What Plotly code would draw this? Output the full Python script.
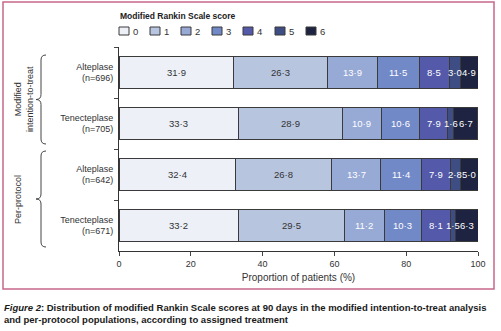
import plotly.graph_objects as go

# ---- data ----
groups = ["Alteplase<br>(n=696)", "Tenecteplase<br>(n=705)", "Alteplase<br>(n=642)", "Tenecteplase<br>(n=671)"]
scores = ["0", "1", "2", "3", "4", "5", "6"]
values = {
    "0": [31.9, 33.3, 32.4, 33.2],
    "1": [26.3, 28.9, 26.8, 29.5],
    "2": [13.9, 10.9, 13.7, 11.2],
    "3": [11.5, 10.6, 11.4, 10.3],
    "4": [8.5, 7.9, 7.9, 8.1],
    "5": [3.0, 1.6, 2.8, 1.5],
    "6": [4.9, 6.7, 5.0, 6.3],
}
colors = ["#edf0f7", "#b8c5df", "#97a9d5", "#7289c7", "#5459a9", "#3e4d83", "#1d2341"]
text_colors = ["#333333", "#333333", "#ffffff", "#ffffff", "#ffffff", "#ffffff", "#ffffff"]
x_ticks = [0, 20, 40, 60, 80, 100]

FONT = "Liberation Sans, Arial"
W, H = 501, 331
L, R, T, B = 119, 478, 47, 251  # plot area in pixels


def px(x):
    return (x - L) / (R - L)


def py(y):
    return (B - y) / (B - T)


fig = go.Figure()
shapes = []
annotations = []

cum = [0.0] * len(groups)
for s, c, tc in zip(scores, colors, text_colors):
    vals = values[s]
    fig.add_trace(go.Bar(
        y=groups, x=vals, orientation="h", name=s,
        marker=dict(color=c, line=dict(color="#3a3a3a", width=1)),
        textposition="none", showlegend=False,
    ))
    for i, (g, v) in enumerate(zip(groups, vals)):
        annotations.append(dict(
            xref="x", yref="y", x=cum[i] + v / 2, y=g,
            text=f"{v:.1f}".replace(".", "·"), showarrow=False,
            xanchor="center", yanchor="middle",
            font=dict(size=9.5, color=tc, family=FONT)))
        cum[i] += v

# manual legend
leg_x = [119, 150, 181, 212, 243, 275, 306]
for s, c, x0 in zip(scores, colors, leg_x):
    shapes.append(dict(type="rect", xref="paper", yref="paper",
                       x0=px(x0), x1=px(x0 + 10), y0=py(35), y1=py(27),
                       fillcolor=c, line=dict(color="#3a3a3a", width=1)))
    annotations.append(dict(xref="paper", yref="paper", x=px(x0 + 12), y=py(31),
                            text=s, showarrow=False, xanchor="left", yanchor="middle",
                            font=dict(size=9.5, color="#333", family=FONT)))
annotations.append(dict(xref="paper", yref="paper", x=px(118), y=py(16),
                        text="<b>Modified Rankin Scale score</b>", showarrow=False,
                        xanchor="left", yanchor="middle",
                        font=dict(size=8.5, color="#222", family=FONT)))

# braces
def brace(top, bot, xl=36, xm=41, xr=46):
    mid = (top + bot) / 2
    pts = (f"M{px(xr)},{py(top)} Q{px(xm)},{py(top)} {px(xm)},{py(top+5)} "
           f"L{px(xm)},{py(mid-5)} Q{px(xm)},{py(mid)} {px(xl)},{py(mid)} "
           f"Q{px(xm)},{py(mid)} {px(xm)},{py(mid+5)} "
           f"L{px(xm)},{py(bot-5)} Q{px(xm)},{py(bot)} {px(xr)},{py(bot)}")
    return dict(type="path", xref="paper", yref="paper", path=pts,
                line=dict(color="#444", width=1))

shapes.append(brace(55, 144))
shapes.append(brace(151, 247))

annotations.append(dict(xref="paper", yref="paper", x=px(24), y=py(99),
                        text="Modified<br>intention-to-treat", textangle=-90,
                        showarrow=False, xanchor="center", yanchor="middle",
                        font=dict(size=9, color="#333", family=FONT)))
annotations.append(dict(xref="paper", yref="paper", x=px(18), y=py(199),
                        text="Per-protocol", textangle=-90,
                        showarrow=False, xanchor="center", yanchor="middle",
                        font=dict(size=9, color="#333", family=FONT)))

# frame
shapes.append(dict(type="rect", xref="paper", yref="paper",
                   x0=px(3), x1=px(494), y0=py(289), y1=py(2),
                   line=dict(color="#c8688a", width=1.5), fillcolor="rgba(0,0,0,0)", layer="below"))

# caption
annotations.append(dict(xref="paper", yref="paper", x=px(2), y=py(300),
                        text="<b><i>Figure 2</i>: Distribution of modified Rankin Scale scores at 90 days in the modified intention-to-treat analysis<br>and per-protocol populations, according to assigned treatment</b>",
                        showarrow=False, xanchor="left", yanchor="top", align="left",
                        font=dict(size=9.5, color="#1a1a1a", family=FONT)))

fig.update_layout(
    width=W, height=H, barmode="stack", bargap=0.37,
    margin=dict(l=L, r=W - R, t=T, b=H - B),
    plot_bgcolor="white", paper_bgcolor="white",
    font=dict(family=FONT, size=10, color="#333"),
    shapes=shapes, annotations=annotations,
)
fig.update_xaxes(range=[0, 100], tickvals=x_ticks, ticks="outside", ticklen=4,
                 showline=True, linecolor="#333", linewidth=1, showgrid=False, zeroline=False,
                 title=dict(text="Proportion of patients (%)", standoff=6,
                            font=dict(size=10, family=FONT, color="#333")),
                 tickfont=dict(size=9, family=FONT, color="#333"))
fig.update_yaxes(autorange="reversed", ticks="outside", ticklen=4, tickson="boundaries",
                 showline=True, linecolor="#333", linewidth=1, showgrid=False,
                 ticklabelstandoff=3,
                 tickfont=dict(size=9, family=FONT, color="#333"))

fig.write_html("out.html")
